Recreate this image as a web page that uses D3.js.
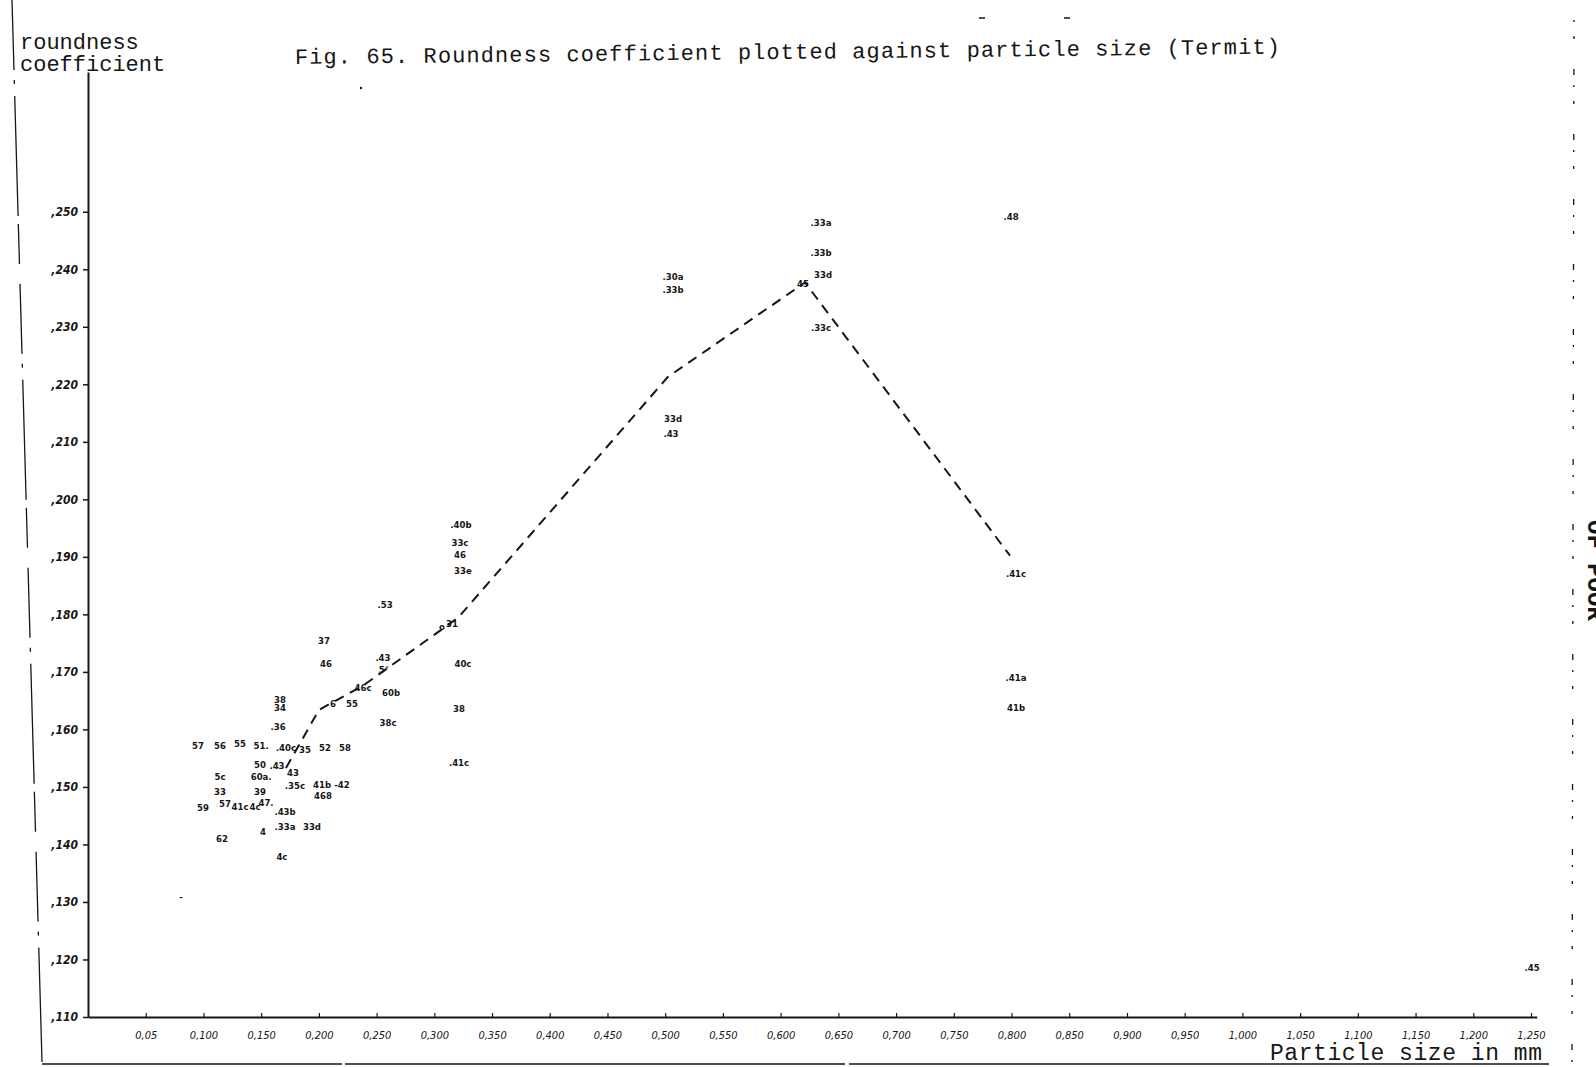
<!DOCTYPE html>
<html>
<head>
<meta charset="utf-8">
<script src="https://cdn.jsdelivr.net/npm/d3@7"></script>
<style>
  html, body { margin: 0; padding: 0; background: #fff; }
  svg { display: block; }
</style>
</head>
<body>
<svg id="chart" width="1596" height="1067"></svg>
<script>
// ---------- data ----------
const titleText = "Fig. 65. Roundness coefficient plotted against particle size (Termit)";
const yTitleLines = ["roundness", "coefficient"];
const xTitleText = "Particle size in mm";

const yTickValues = [110, 120, 130, 140, 150, 160, 170, 180, 190, 200, 210, 220, 230, 240, 250];
const yTickLabels = [",110", ",120", ",130", ",140", ",150", ",160", ",170", ",180", ",190", ",200", ",210", ",220", ",230", ",240", ",250"];

const xTickValues = [0.05, 0.10, 0.15, 0.20, 0.25, 0.30, 0.35, 0.40, 0.45, 0.50, 0.55, 0.60, 0.65, 0.70, 0.75, 0.80, 0.85, 0.90, 0.95, 1.00, 1.05, 1.10, 1.15, 1.20, 1.25];
const xTickLabels = ["0,05", "0,100", "0,150", "0,200", "0,250", "0,300", "0,350", "0,400", "0,450", "0,500", "0,550", "0,600", "0,650", "0,700", "0,750", "0,800", "0,850", "0,900", "0,950", "1,000", "1,050", "1,100", "1,150", "1,200", "1,250"];

// labelled sample points (particle size, roundness coefficient, sample label)
const pointLabels = ["57", "56", "55", "51.", ".40c", "35", "52", "58",
  "38", "34", ".36", "50", ".43", "5c", "60a.", "43", ".35c", "41b", "-42", "468",
  "33", "39", "59", "57", "41c", "4c", "47.", ".43b", ".33a", "33d", "4", "62", "4c",
  "6", "55", "37", "46", ".53", ".43", "5°", "46c", "60b", "38c",
  ".40b", "33c", "46", "33e", "o", "31", "40c", "38", ".41c",
  ".30a", ".33b", "33d", ".43",
  ".33a", ".33b", "33d", "45", ".33c",
  ".48", ".41c", ".41a", "41b", ".45", "-"];
const pointX = [0.0953, 0.1143, 0.1317, 0.1500, 0.1715, 0.1880, 0.2053, 0.2226,
  0.1663, 0.1663, 0.1646, 0.1490, 0.1637, 0.1143, 0.1500, 0.1776, 0.1793, 0.2027, 0.2200, 0.2036,
  0.1143, 0.1490, 0.0996, 0.1187, 0.1317, 0.1447, 0.1542, 0.1707, 0.1707, 0.1940, 0.1516, 0.1161, 0.1680,
  0.2122, 0.2287, 0.2044, 0.2062, 0.2573, 0.2555, 0.2564, 0.2382, 0.2625, 0.2599,
  0.3231, 0.3222, 0.3222, 0.3248, 0.3067, 0.3153, 0.3248, 0.3214, 0.3214,
  0.5068, 0.5068, 0.5068, 0.5050,
  0.6350, 0.6350, 0.6367, 0.6194, 0.6350,
  0.7996, 0.8039, 0.8039, 0.8039, 1.2509, 0.0806];
const pointY = [157.1, 157.1, 157.3, 157.1, 156.6, 156.4, 156.6, 156.6,
  165.1, 163.7, 160.4, 153.8, 153.5, 151.7, 151.6, 152.4, 150.0, 150.3, 150.3, 148.4,
  149.0, 149.0, 146.3, 146.9, 146.5, 146.5, 147.2, 145.5, 143.0, 143.0, 142.0, 140.8, 137.8,
  164.3, 164.3, 175.2, 171.2, 181.5, 172.4, 170.3, 167.2, 166.2, 161.0,
  195.4, 192.3, 190.2, 187.4, 177.7, 178.2, 171.2, 163.4, 154.0,
  238.5, 236.3, 213.8, 211.2,
  247.9, 242.7, 238.9, 237.3, 229.7,
  249.0, 186.9, 168.8, 163.7, 118.5, 130.7];

// dashed mean line
const lineX = [0.1715, 0.2001, 0.2382, 0.3205, 0.5024, 0.6211, 0.7987];
const lineY = [153.3, 163.4, 167.6, 179.4, 221.3, 237.7, 190.2];

// ---------- drawing ----------
const svg = d3.select("#chart");
const ink = "#161616";
const mono = "'Liberation Mono', 'DejaVu Sans Mono', monospace";
const hand = "'DejaVu Sans Condensed', 'DejaVu Sans', sans-serif";

const x = d3.scaleLinear().domain([0, 1.255]).range([88, 88 + 1.255 * 1154.4]);
const y = d3.scaleLinear().domain([110, 274.3]).range([1017, 72]);

// scan frame lines
svg.append("line").attr("x1", 12).attr("y1", 0).attr("x2", 42).attr("y2", 1062)
  .attr("stroke", ink).attr("stroke-width", 1.3).attr("stroke-dasharray", "70,10,4,12,120,8,40,20");
svg.append("line").attr("x1", 42).attr("y1", 1064).attr("x2", 1574).attr("y2", 1064)
  .attr("stroke", ink).attr("stroke-width", 1.6).attr("stroke-dasharray", "300,3,500,4,700");
svg.append("line").attr("x1", 1574).attr("y1", 20).attr("x2", 1572).attr("y2", 1063)
  .attr("stroke", ink).attr("stroke-width", 1.3).attr("stroke-dasharray", "2,14,3,30,6,10");
svg.append("line").attr("x1", 979).attr("y1", 18).attr("x2", 985).attr("y2", 18).attr("stroke", ink).attr("stroke-width", 1.5);
svg.append("line").attr("x1", 1064).attr("y1", 18).attr("x2", 1070).attr("y2", 18).attr("stroke", ink).attr("stroke-width", 1.5);
svg.append("circle").attr("cx", 361).attr("cy", 88).attr("r", 1.2).attr("fill", ink);

// cut-off rotated text at the right edge (partly outside the scan, as in the original)
svg.append("text").attr("transform", "translate(1588,520) rotate(90)")
  .attr("font-family", mono).attr("font-size", 24).attr("font-weight", "bold").attr("fill", ink)
  .text("OF POOR");

// axes
const yAxis = d3.axisLeft(y).tickValues(yTickValues)
  .tickFormat((d, i) => yTickLabels[i]).tickSize(5).tickSizeOuter(0).tickPadding(5);
const gy = svg.append("g").attr("transform", "translate(88,0)").call(yAxis);
gy.select(".domain").attr("stroke", ink).attr("stroke-width", 2);
gy.selectAll(".tick line").attr("stroke", ink).attr("stroke-width", 1.5);
gy.selectAll(".tick text").attr("font-family", hand).attr("font-size", 12)
  .attr("font-weight", "bold").attr("font-style", "italic").attr("fill", ink);

const xAxis = d3.axisBottom(x).tickValues(xTickValues)
  .tickFormat((d, i) => xTickLabels[i]).tickSize(-4).tickSizeOuter(0).tickPadding(14);
const gx = svg.append("g").attr("transform", "translate(0,1017)").call(xAxis);
gx.select(".domain").attr("stroke", ink).attr("stroke-width", 2);
gx.selectAll(".tick line").attr("stroke", ink).attr("stroke-width", 1.2);
gx.selectAll(".tick text").attr("font-family", hand).attr("font-size", 11)
  .attr("font-style", "italic").attr("fill", ink);

// dashed line
const lineData = lineX.map((v, i) => [v, lineY[i]]);
svg.append("path").datum(lineData)
  .attr("d", d3.line().x(d => x(d[0])).y(d => y(d[1])))
  .attr("fill", "none").attr("stroke", ink).attr("stroke-width", 2)
  .attr("stroke-dasharray", "10,7");

// point labels
const pts = pointLabels.map((l, i) => ({ l, px: pointX[i], py: pointY[i] }));
svg.append("g").selectAll("text").data(pts).join("text")
  .attr("x", d => x(d.px)).attr("y", d => y(d.py))
  .attr("text-anchor", "middle").attr("dominant-baseline", "middle")
  .attr("font-family", hand).attr("font-size", 9.5).attr("font-weight", "bold")
  .attr("fill", ink).text(d => d.l);

// titles
svg.append("text").attr("x", 295).attr("y", 64)
  .attr("transform", "rotate(-0.6,295,64)")
  .attr("font-family", mono).attr("font-size", 22).attr("fill", ink)
  .attr("textLength", 985).attr("lengthAdjust", "spacing")
  .text(titleText);
svg.append("g").selectAll("text").data(yTitleLines).join("text")
  .attr("x", 20).attr("y", (d, i) => 49 + i * 22)
  .attr("font-family", mono).attr("font-size", 22).attr("fill", ink)
  .text(d => d);
svg.append("text").attr("x", 1270).attr("y", 1060)
  .attr("font-family", mono).attr("font-size", 23).attr("fill", ink)
  .attr("textLength", 272).attr("lengthAdjust", "spacing")
  .text(xTitleText);
</script>
</body>
</html>
